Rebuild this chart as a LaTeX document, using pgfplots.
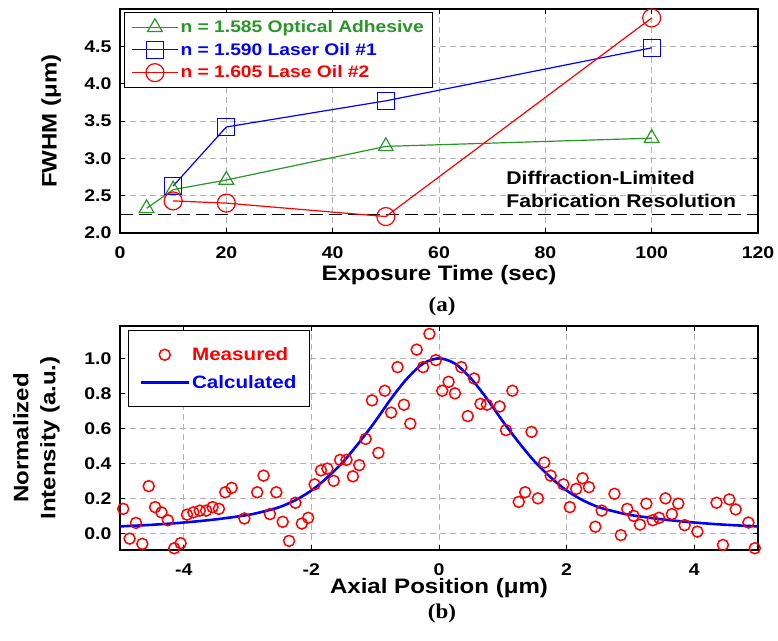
\documentclass[border=0pt]{standalone}
\usepackage{fontspec}
\setmainfont{Liberation Sans}[FakeStretch=1.15]
\newfontfamily\capfont{Liberation Serif}[FakeStretch=1.1]
\usepackage{pgfplots}
\pgfplotsset{compat=1.18}
\definecolor{mgreen}{RGB}{40,150,40}
\definecolor{mblue}{RGB}{0,0,255}
\definecolor{mred}{RGB}{255,0,0}

\pgfplotsset{
  panel/.style={
    scale only axis, width=638bp, height=224bp,
    axis line style={line width=1.3bp},
    major tick length=5bp,
    every tick/.style={black, line width=0.8bp},
    xmajorgrids, ymajorgrids,
    grid style={dash pattern=on 6bp off 4bp, gray!60, line width=0.7bp},
    tick label style={font=\fontsize{17}{17}\selectfont\bfseries},
    xticklabel style={yshift=-10bp},
    yticklabel style={xshift=-5bp},
    label style={font=\fontsize{21}{27}\selectfont\bfseries},
    /pgf/number format/assume math mode=true,
    legend cell align=left,
    legend style={draw=black, line width=1bp, fill=white,
      nodes={inner sep=2bp},
      /tikz/every even column/.append style={column sep=10bp}},
  },
}

\pgfplotstableread{
x y
-4.95 0.14
-4.85 -0.03
-4.75 0.06
-4.65 -0.06
-4.55 0.27
-4.45 0.15
-4.35 0.12
-4.25 0.075
-4.15 -0.085
-4.05 -0.056
-3.95 0.107
-3.85 0.12
-3.75 0.13
-3.65 0.13
-3.55 0.15
-3.45 0.14
-3.35 0.235
-3.25 0.26
-3.05 0.085
-2.85 0.235
-2.75 0.33
-2.65 0.11
-2.55 0.235
-2.45 0.066
-2.35 -0.043
-2.25 0.175
-2.15 0.056
-2.05 0.089
-1.95 0.28
-1.85 0.36
-1.75 0.37
-1.65 0.30
-1.55 0.42
-1.45 0.42
-1.35 0.326
-1.25 0.39
-1.15 0.54
-1.05 0.76
-0.95 0.46
-0.85 0.815
-0.75 0.69
-0.65 0.95
-0.55 0.735
-0.45 0.627
-0.35 1.05
-0.25 0.95
-0.15 1.14
-0.05 0.99
0.05 0.815
0.15 0.866
0.25 0.80
0.35 0.95
0.45 0.67
0.55 0.885
0.65 0.74
0.75 0.735
0.95 0.725
1.05 0.59
1.15 0.815
1.25 0.18
1.35 0.235
1.45 0.58
1.55 0.20
1.65 0.405
1.75 0.33
1.95 0.28
2.05 0.15
2.15 0.254
2.25 0.315
2.35 0.264
2.45 0.038
2.55 0.13
2.75 0.226
2.85 -0.01
2.95 0.14
3.05 0.10
3.15 0.05
3.25 0.17
3.35 0.075
3.45 0.089
3.55 0.20
3.65 0.11
3.75 0.17
3.85 0.047
4.05 0.01
4.35 0.175
4.45 -0.066
4.55 0.194
4.65 0.137
4.85 0.062
4.95 -0.085
}\measured

\pgfplotstableread{
x y
-5.0 0.040
-4.5 0.049
-4.0 0.062
-3.5 0.080
-3.0 0.105
-2.75 0.125
-2.5 0.150
-2.25 0.190
-2.0 0.245
-1.75 0.320
-1.5 0.410
-1.25 0.520
-1.0 0.640
-0.75 0.770
-0.5 0.885
-0.25 0.970
0.0 1.000
0.25 0.970
0.5 0.885
0.75 0.770
1.0 0.640
1.25 0.520
1.5 0.410
1.75 0.320
2.0 0.245
2.25 0.190
2.5 0.150
2.75 0.125
3.0 0.105
3.5 0.080
4.0 0.062
4.5 0.049
5.0 0.040
}\calculated

\begin{document}
\begin{tikzpicture}
\useasboundingbox (0,0) rectangle (778bp,641bp);

% (a) FWHM against exposure time
\begin{axis}[panel, at={(120bp,408bp)}, anchor=south west,
  xmin=0, xmax=120, ymin=2, ymax=5,
  xtick={0,20,40,60,80,100,120},
  ytick={2,2.5,3,3.5,4,4.5},
  yticklabel style={/pgf/number format/.cd, fixed, fixed zerofill, precision=1},
  xlabel={Exposure Time (sec)},
  ylabel={FWHM (μm)},
  x label style={at={(axis description cs:0.5,-0.19)}, anchor=center},
  y label style={at={(axis description cs:-0.108,0.5)}, anchor=center},
  legend style={at={(axis description cs:0.006,0.987)}, anchor=north west,
    inner xsep=7bp, inner ysep=6bp, row sep=5bp,
    font=\fontsize{16.8}{20}\selectfont\bfseries,
    /tikz/every even column/.append style={column sep=13bp}},
  legend image code/.code={\draw[mark repeat=2,mark phase=2] plot coordinates {(0bp,0bp)(23bp,0bp)(46bp,0bp)};},
]
\addplot[black, line width=1.6bp, dash pattern=on 13bp off 6bp, forget plot]
  coordinates {(0,2.25)(120,2.25)};
\addplot[mgreen, line width=1.2bp, mark=triangle, mark size=8.5bp,
  mark options={solid, fill=white, line width=1.2bp}]
  coordinates {(5,2.33)(10,2.58)(20,2.71)(50,3.16)(100,3.27)};
\addlegendentry{\textcolor{mgreen}{n = 1.585 Optical Adhesive}}
\addplot[mblue, line width=1.2bp, mark=square, mark size=8.5bp,
  mark options={solid, fill=white, line width=1.2bp}]
  coordinates {(10,2.63)(20,3.42)(50,3.77)(100,4.48)};
\addlegendentry{\textcolor{mblue}{n = 1.590 Laser Oil \#1}}
\addplot[mred, line width=1.2bp, mark=o, mark size=9bp,
  mark options={solid, fill=white, line width=1.2bp}]
  coordinates {(10,2.43)(20,2.40)(50,2.22)(100,4.88)};
\addlegendentry{\textcolor{mred}{n = 1.605 Lase Oil \#2}}
\node[anchor=west, align=left, font=\fontsize{18.5}{23}\selectfont\bfseries]
  at (axis cs:72,2.58) {Diffraction-Limited\\Fabrication Resolution};
\end{axis}

% (b) axial intensity profile
\begin{axis}[panel, at={(120bp,91bp)}, anchor=south west,
  xmin=-5, xmax=5, ymin=-0.095, ymax=1.185,
  xtick={-4,-2,0,2,4},
  ytick={0,0.2,0.4,0.6,0.8,1.0},
  yticklabel style={/pgf/number format/.cd, fixed, fixed zerofill, precision=1},
  xlabel={Axial Position (μm)},
  ylabel={Normalized\\Intensity (a.u.)},
  x label style={at={(axis description cs:0.5,-0.17)}, anchor=center},
  y label style={at={(axis description cs:-0.131,0.5)}, anchor=center, align=center},
  legend style={at={(axis description cs:0.0125,0.982)}, anchor=north west,
    inner xsep=11bp, inner ysep=15bp, row sep=9bp,
    font=\fontsize{18}{20}\selectfont\bfseries},
  legend image code/.code={\draw[mark repeat=2,mark phase=2] plot coordinates {(0bp,0bp)(24bp,0bp)(48bp,0bp)};},
]
\addplot[only marks, mred, mark=o, mark size=5.5bp, mark options={line width=1.5bp},
  legend image code/.code={\draw[mark repeat=2,mark phase=2] plot coordinates {(0bp,0bp)(24bp,0bp)(48bp,0bp)};}]
  table {\measured};
\addlegendentry{\textcolor{mred}{Measured}}
\addplot[mblue, line width=2.6bp, smooth] table {\calculated};
\addlegendentry{\textcolor{mblue}{Calculated}}
\end{axis}

\node[font=\fontsize{21}{21}\selectfont\capfont\bfseries] at (442bp,335bp) {(a)};
\node[font=\fontsize{21}{21}\selectfont\capfont\bfseries] at (442bp,28bp) {(b)};
\end{tikzpicture}
\end{document}
